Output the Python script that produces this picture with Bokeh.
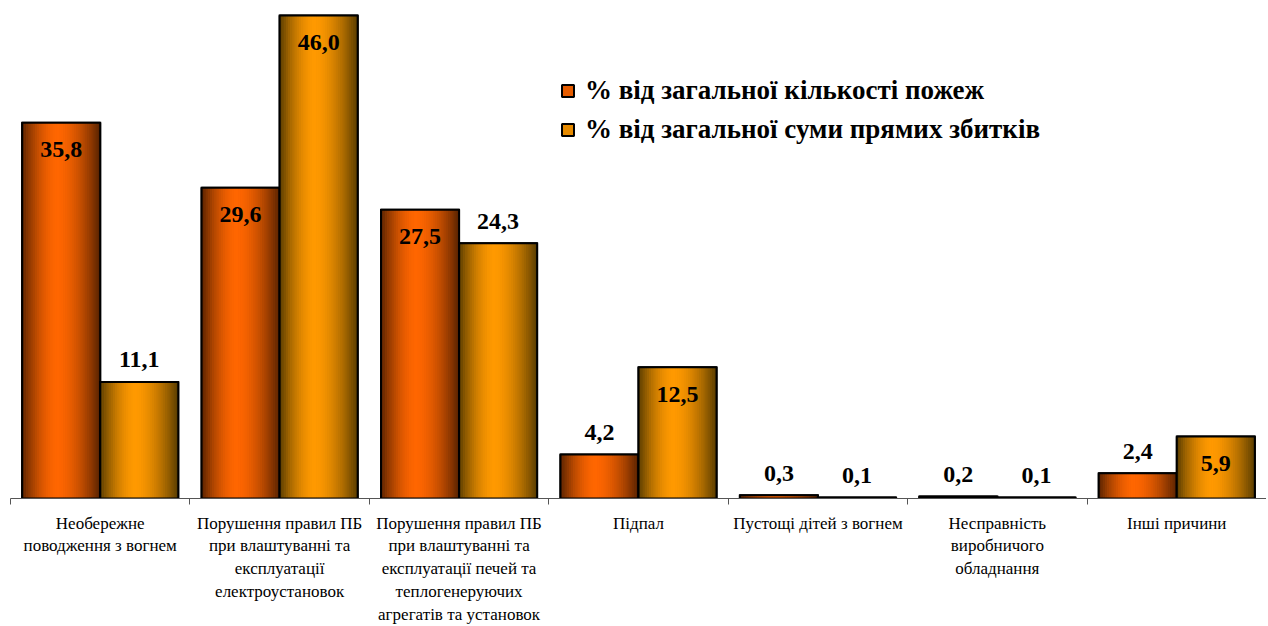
from bokeh.plotting import figure
from bokeh.models import Range1d, FixedTicker, Legend, LegendItem, ColumnDataSource
from bokeh.embed import file_html
from bokeh.resources import INLINE
from bokeh.core.properties import value

categories = [
    "Необережне\nповодження з вогнем",
    "Порушення правил ПБ\nпри влаштуванні та\nексплуатації\nелектроустановок",
    "Порушення правил ПБ\nпри влаштуванні та\nексплуатації печей та\nтеплогенеруючих\nагрегатів та установок",
    "Підпал",
    "Пустощі дітей з вогнем",
    "Несправність\nвиробничого\nобладнання",
    "Інші причини",
]
series_names = ["% від загальної кількості пожеж", "% від загальної суми прямих збитків"]
fires = [35.8, 29.6, 27.5, 4.2, 0.3, 0.2, 2.4]
losses = [11.1, 46.0, 24.3, 12.5, 0.1, 0.1, 5.9]
# label placement: True = inside the bar top, False = above the bar
fires_inside = [True, True, True, False, False, False, False]
losses_inside = [False, True, False, True, False, False, True]

FONT = "'Liberation Serif', 'Times New Roman', serif"
n = len(categories)
BAR_W = 0.435
OFFSET = 0.2175

p = figure(width=1266, height=626, output_backend="svg", toolbar_location=None,
           x_range=Range1d(0, n), y_range=Range1d(0, 46.67),
           min_border_left=10, min_border_right=0, min_border_top=8, min_border_bottom=119)
p.outline_line_color = None
p.xgrid.visible = False
p.ygrid.visible = False
p.yaxis.visible = False
p.background_fill_color = "white"
p.border_fill_color = "white"


def hex_to_rgb(h):
    h = h.lstrip("#")
    return tuple(int(h[i:i + 2], 16) for i in (0, 2, 4))


def mix(a, b, t):
    ra, rb = hex_to_rgb(a), hex_to_rgb(b)
    return "#%02x%02x%02x" % tuple(int(round(ra[i] + (rb[i] - ra[i]) * t)) for i in range(3))


def draw_series(vals, offset, edge, center, mid, inside):
    xs = [i + 0.5 + offset for i in range(n)]
    src = ColumnDataSource(dict(x=xs, top=vals))
    leg = p.vbar(x="x", top="top", width=BAR_W, source=src, fill_color=mid,
                 line_color="black", line_width=2)
    strips = 36
    peak = 0.45
    dw = BAR_W / strips
    for j in range(strips):
        t = (j + 0.5) / strips
        d = (t - peak) / (peak if t < peak else 1 - peak)
        g = max(0.0, 1 - abs(d) ** 1.7)
        col = mix(edge, center, g)
        sx = [x - BAR_W / 2 + (j + 0.5) * dw for x in xs]
        p.vbar(x=sx, top=vals, width=dw * 1.25, fill_color=col, line_color=None)
    p.vbar(x="x", top="top", width=BAR_W, source=src, fill_color=None,
           line_color="black", line_width=2, line_join="miter")
    texts = [f"{v:.1f}".replace(".", ",") for v in vals]
    offs = [27 if ins else -22 for ins in inside]
    p.text(x=xs, y=vals, text=texts, y_offset=offs, text_align="center",
           text_baseline="middle", text_font=value(FONT), text_font_style="bold",
           text_font_size="24px", text_color="black")
    return leg


leg1 = draw_series(fires, -OFFSET, "#582200", "#ff6600", "#e65c00", fires_inside)
leg2 = draw_series(losses, OFFSET, "#583c00", "#ff9900", "#e68a00", losses_inside)

ax = p.xaxis[0]
ax.ticker = FixedTicker(ticks=[i + 0.5 for i in range(n)], minor_ticks=list(range(n + 1)))
ax.major_label_overrides = {i + 0.5: categories[i] for i in range(n)}
ax.major_tick_line_color = None
ax.major_tick_out = 0
ax.major_tick_in = 0
ax.minor_tick_out = 6
ax.minor_tick_in = 0
ax.minor_tick_line_color = "#555555"
ax.axis_line_color = "#555555"
ax.axis_line_width = 1
ax.major_label_standoff = 9
ax.major_label_text_font = FONT
ax.major_label_text_font_size = "17px"
ax.major_label_text_color = "black"
ax.major_label_text_line_height = 1.2
ax.major_label_orientation = "horizontal"

legend = Legend(items=[LegendItem(label=series_names[0], renderers=[leg1]),
                       LegendItem(label=series_names[1], renderers=[leg2])],
                location=(550, 351), orientation="vertical",
                label_text_font=FONT, label_text_font_style="bold", label_text_font_size="27px",
                label_text_color="black", glyph_width=15, glyph_height=15, label_height=36,
                label_standoff=10, spacing=3, padding=0, margin=0,
                border_line_color=None, background_fill_alpha=0)
p.add_layout(legend)

open("out.html", "w").write(file_html(p, INLINE))
